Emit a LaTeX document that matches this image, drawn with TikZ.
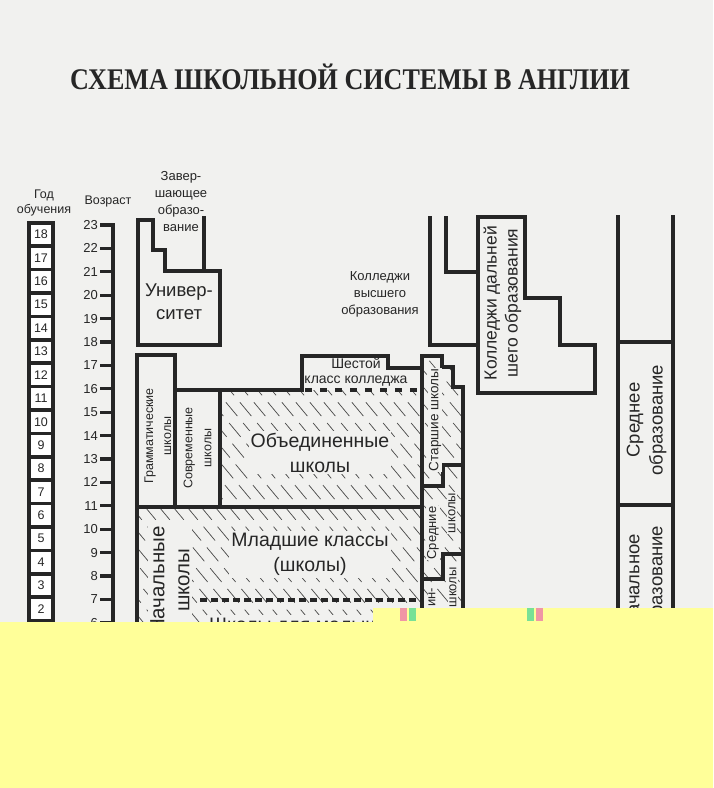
\documentclass[tikz,border=0pt]{standalone}
\usepackage{fontspec}
\setmainfont{Liberation Sans}
\newfontfamily\titlefont{Liberation Serif}
\usetikzlibrary{positioning}
\definecolor{ink}{RGB}{38,38,38}
\definecolor{paper}{RGB}{241,241,239}
\definecolor{hideyel}{RGB}{255,255,153}
\definecolor{glpink}{RGB}{240,150,165}
\definecolor{glgreen}{RGB}{120,225,150}
\newcommand{\fsz}[2]{\fontsize{#1}{#2}\selectfont}
\tikzset{
  wall/.style    ={draw=ink, line width=3.6pt},
  agetick/.style ={draw=ink, line width=3.2pt},
  yrbox/.style   ={draw=ink, fill=white, line width=3.6pt, minimum width=24.4pt,
                   minimum height=23.4pt, inner sep=0pt, text=ink, font=\fsz{12.5}{15}},
  hatch/.style   ={draw=ink!85, line width=0.7pt, dash pattern=on 18pt off 9pt},
  sixdash/.style ={draw=ink, line width=3.6pt, dash pattern=on 7pt off 8pt},
  infdash/.style ={draw=ink, line width=3.6pt, dash pattern=on 7pt off 4pt},
  lbl/.style     ={text=ink, align=center, inner sep=0pt},
  vlbl/.style    ={lbl, rotate=90},
  onhatch/.style ={fill=paper, inner sep=2pt},
}

\begin{document}
\begin{tikzpicture}[x=1pt,y=-1pt]
\useasboundingbox (0,0) rectangle (713,788);
\fill[paper] (0,0) rectangle (713,788);

\node[lbl,font=\titlefont\bfseries\fsz{30}{30}] (title) at (350,77)
  {\scalebox{0.87}[1]{СХЕМА ШКОЛЬНОЙ СИСТЕМЫ В АНГЛИИ}};

\node[lbl,font=\fsz{12.5}{15}] (god) at (44,203) {Год\\обучения};
\node[lbl,font=\fsz{12.5}{15}] (vozr) at (108,201) {Возраст};
\foreach \n in {1,...,18}
  \node[yrbox] (y\n) at (41,{234.5+(18-\n)*23.4}) {\n};
\foreach \a in {6,...,23} {
  \coordinate (t\a) at (100,{225+(23-\a)*23.4});
  \draw[agetick] (t\a) -- ++(13,0);
  \node[lbl,font=\fsz{13}{15},left=2pt of t\a] (a\a) {\a};
}
\draw[agetick] (113,223.4) -- (113,700);

\begin{scope}
\clip (220,390) rectangle (422,507) (137,507) rectangle (422,640)
  (422,356) -- (442,356) -- (442,367) -- (453,367) -- (453,387) -- (463,387) -- (463,640) -- (422,640) -- cycle;
\foreach \k in {0,...,52}
  \draw[hatch] ({-260+14*\k},340) -- ++(260,312);
\end{scope}

\draw[wall] (138,220) -- (153,220) -- (153,250) -- (165,250) -- (165,271) -- (220,271) -- (220,345) -- (138,345) -- cycle;
\draw[wall] (204,216) -- (204,271);
\draw[wall] (137,640) -- (137,355) -- (175,355) -- (175,507);
\draw[wall] (175,390) -- (302,390) -- (302,356) -- (388,356) -- (388,368) -- (422,368);
\draw[wall] (220,390) -- (220,507);
\draw[wall] (137,507) -- (422,507);
\draw[wall] (422,640) -- (422,356) -- (442,356) -- (442,367) -- (453,367) -- (453,387) -- (463,387) -- (463,640);
\draw[wall] (422,486) -- (443,486) -- (443,465) -- (463,465);
\draw[wall] (463,554) -- (443,554) -- (443,579) -- (422,579);
\draw[sixdash] (305,390) -- (420,390);
\draw[infdash] (200,600) -- (420,600);
\draw[wall] (430,216) -- (430,345) -- (478,345);
\draw[wall] (446,216) -- (446,272) -- (478,272);
\draw[wall] (478,217) -- (525,217) -- (525,298) -- (560,298) -- (560,345) -- (595,345) -- (595,393) -- (478,393) -- cycle;
\draw[wall] (618,215) -- (618,640);
\draw[wall] (673,215) -- (673,640);
\draw[wall] (618,342) -- (673,342);
\draw[wall] (618,505) -- (673,505);

\node[lbl,font=\fsz{13}{17}] (zav) at (181,202) {Завер-\\шающее\\образо-\\вание};
\node[lbl,font=\fsz{18.5}{23}] (uni) at (179,301.5) {Универ-\\ситет};
\node[lbl,font=\fsz{13}{17}] (vys) at (380,294) {Колледжи\\высшего\\образования};
\node[lbl,font=\fsz{14}{15}] (six) at (356,372.5) {Шестой\\класс колледжа};
\node[vlbl,font=\fsz{12.5}{18}] (gram) at (158,436) {Грамматические\\школы};
\node[vlbl,font=\fsz{12.5}{19}] (sovr) at (197.5,448) {Современные\\школы};
\node[lbl,onhatch,font=\fsz{19.5}{25}] (obed) at (320,452.5) {Объединенные\\школы};
\node[vlbl,onhatch,inner sep=1pt,font=\fsz{13.5}{15}] (star) at (435,420) {Старшие школы};
\node[vlbl,onhatch,inner sep=1pt,font=\fsz{13}{15}] (sred) at (433,533) {Средние};
\node[vlbl,onhatch,inner sep=1pt,font=\fsz{13}{15}] (sredb) at (452,513) {школы};
\node[vlbl,onhatch,inner sep=1pt,font=\fsz{13}{15},anchor=east] (inn) at (432,587) {ин-};
\node[vlbl,onhatch,inner sep=1pt,font=\fsz{13}{15},anchor=east] (shk) at (453,566) {школы};
\node[lbl,onhatch,font=\fsz{19.5}{25}] (mlad) at (310,554.5) {Младшие классы\\(школы)};
\node[vlbl,onhatch,font=\fsz{20.5}{25}] (nach) at (170,580) {Начальные\\школы};
\node[lbl,onhatch,font=\fsz{19.5}{25},anchor=base west] (maly) at (207,631) {Школы для малышей};
\node[vlbl,font=\fsz{17.5}{21}] (dal) at (502.5,303) {Колледжи дальней\\шего образования};
\node[vlbl,font=\fsz{18.5}{23}] (sro) at (646.5,420) {Среднее\\образование};
\node[vlbl,font=\fsz{18.5}{23}] (nao) at (646.5,581) {Начальное\\образование};

\fill[hideyel] (0,622) -- (373,622) -- (373,608) -- (713,608) -- (713,788) -- (0,788) -- cycle;
\fill[glpink] (400,608) rectangle (407,621);
\fill[glgreen] (409,608) rectangle (416,621);
\fill[glgreen] (527,608) rectangle (534,621);
\fill[glpink] (536,608) rectangle (543,621);
\end{tikzpicture}
\end{document}
